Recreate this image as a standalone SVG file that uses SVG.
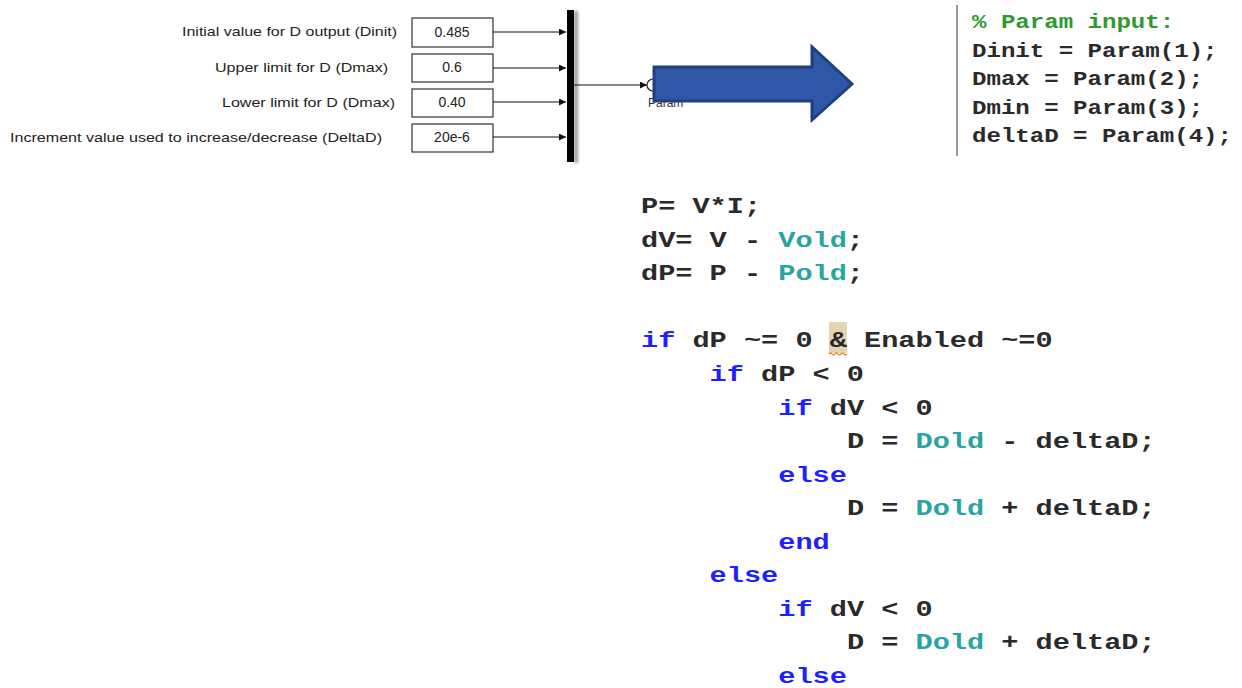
<svg xmlns="http://www.w3.org/2000/svg" width="1242" height="688" viewBox="0 0 1242 688">
  <style>
    .lbl { font-family: "Liberation Sans", Arial, sans-serif; font-size: 13.5px; fill: #222; }
    .val { font-family: "Liberation Sans", Arial, sans-serif; font-size: 14px; fill: #222; text-anchor: middle; }
    .box { fill: #fff; stroke: #333; stroke-width: 1.2; }
    .wire { stroke: #111; stroke-width: 1.2; fill: none; }
    .code { font-family: "Liberation Mono", "Courier New", monospace; font-weight: bold; fill: #2a2a2a; white-space: pre; }
    .kw { fill: #1f1fff; }
    .var { fill: #2aa3a3; }
    .cmt { fill: #2e9a2e; }
  </style>
  <defs>
    <marker id="tip" viewBox="0 0 10 10" refX="10" refY="5" markerWidth="9" markerHeight="7" markerUnits="userSpaceOnUse" orient="auto">
      <path d="M0,0 L10,5 L0,10 z" fill="#111"/>
    </marker>
    <filter id="soft" x="-1" y="-0.1" width="3" height="1.2">
      <feGaussianBlur stdDeviation="1.5"/>
    </filter>
  </defs>
  <rect width="1242" height="688" fill="#fff"/>

  <!-- parameter labels -->
  <g id="labels">
    <text class="lbl" x="182" y="36" textLength="215" lengthAdjust="spacingAndGlyphs">Initial value for D output (Dinit)</text>
    <text class="lbl" x="215" y="72" textLength="173" lengthAdjust="spacingAndGlyphs">Upper limit for D (Dmax)</text>
    <text class="lbl" x="222" y="107" textLength="173" lengthAdjust="spacingAndGlyphs">Lower limit for D (Dmax)</text>
    <text class="lbl" x="10" y="142" textLength="372" lengthAdjust="spacingAndGlyphs">Increment value used to increase/decrease (DeltaD)</text>
  </g>

  <!-- constant blocks -->
  <g id="const-dinit">
    <rect class="box" x="412" y="18" width="81" height="29"/>
    <text class="val" x="452" y="37">0.485</text>
  </g>
  <g id="const-dmax">
    <rect class="box" x="412" y="54" width="81" height="28"/>
    <text class="val" x="452" y="72">0.6</text>
  </g>
  <g id="const-dmin">
    <rect class="box" x="412" y="89" width="81" height="28"/>
    <text class="val" x="452" y="107">0.40</text>
  </g>
  <g id="const-deltad">
    <rect class="box" x="412" y="124" width="81" height="28"/>
    <text class="val" x="452" y="142">20e-6</text>
  </g>

  <!-- mux bar -->
  <g id="mux">
    <rect x="574" y="11" width="4" height="152" fill="#999" filter="url(#soft)"/>
    <rect x="567" y="10" width="7" height="152" fill="#000"/>
  </g>

  <!-- Param input port -->
  <g id="param-port">
    <circle cx="653" cy="85" r="6" fill="#fff" stroke="#222" stroke-width="1.2"/>
    <text x="648" y="107" font-family="Liberation Sans, Arial, sans-serif" font-size="12" fill="#333">Param</text>
  </g>

  <!-- signal lines -->
  <g id="connectors">
    <line class="wire" x1="493" y1="32" x2="566" y2="32" marker-end="url(#tip)"/>
    <line class="wire" x1="493" y1="68" x2="566" y2="68" marker-end="url(#tip)"/>
    <line class="wire" x1="493" y1="102" x2="566" y2="102" marker-end="url(#tip)"/>
    <line class="wire" x1="493" y1="137" x2="566" y2="137" marker-end="url(#tip)"/>
    <line class="wire" x1="574" y1="85" x2="647" y2="85" marker-end="url(#tip)"/>
  </g>

  <!-- block arrow -->
  <g id="block-arrow">
    <path d="M654,67 L812,67 L812,47 L852,84 L812,120 L812,101 L654,101 Z" fill="#3057a7" stroke="#203f7c" stroke-width="3" stroke-linejoin="miter"/>
  </g>

  <!-- parameter unpacking code -->
  <g id="param-code">
    <line x1="957" y1="5" x2="957" y2="156" stroke="#999" stroke-width="2"/>
    <g transform="translate(972,0) scale(1.147,1)" class="code" font-size="21">
      <text x="0" y="28" class="cmt">% Param input:</text>
      <text x="0" y="57">Dinit = Param(1);</text>
      <text x="0" y="85">Dmax = Param(2);</text>
      <text x="0" y="114">Dmin = Param(3);</text>
      <text x="0" y="142">deltaD = Param(4);</text>
    </g>
  </g>

  <!-- MPPT algorithm code -->
  <g id="mppt-code">
    <rect x="829" y="322" width="18" height="31" fill="#e6d3b1"/>
    <path d="M829,354 q1.5,-2 3,0 t3,0 t3,0 t3,0 t3,0 t3,0" fill="none" stroke="#e07010" stroke-width="1.2"/>
    <g transform="translate(641,0) scale(1.3,1)" class="code" font-size="22" xml:space="preserve">
      <text x="0" y="213">P= V*I;</text>
      <text x="0" y="247">dV= V - <tspan class="var">Vold</tspan>;</text>
      <text x="0" y="280">dP= P - <tspan class="var">Pold</tspan>;</text>
      <text x="0" y="347"><tspan class="kw">if</tspan> dP ~= 0 &amp; Enabled ~=0</text>
      <text x="52.8" y="381"><tspan class="kw">if</tspan> dP &lt; 0</text>
      <text x="105.6" y="415"><tspan class="kw">if</tspan> dV &lt; 0</text>
      <text x="158.4" y="448">D = <tspan class="var">Dold</tspan> - deltaD;</text>
      <text x="105.6" y="482" class="kw">else</text>
      <text x="158.4" y="515">D = <tspan class="var">Dold</tspan> + deltaD;</text>
      <text x="105.6" y="549" class="kw">end</text>
      <text x="52.8" y="582" class="kw">else</text>
      <text x="105.6" y="616"><tspan class="kw">if</tspan> dV &lt; 0</text>
      <text x="158.4" y="649">D = <tspan class="var">Dold</tspan> + deltaD;</text>
      <text x="105.6" y="683" class="kw">else</text>
    </g>
  </g>
</svg>
